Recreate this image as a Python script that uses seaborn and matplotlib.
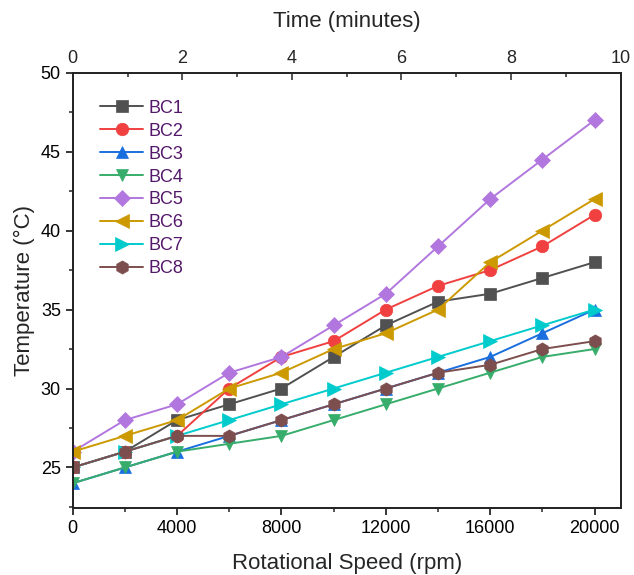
import matplotlib
matplotlib.use("Agg")
import matplotlib.pyplot as plt
import seaborn as sns
import numpy as np
from matplotlib.ticker import MultipleLocator

sns.set_style("ticks")
plt.rcParams['font.family'] = ['Liberation Sans', 'DejaVu Sans']

speed = [0, 2000, 4000, 6000, 8000, 10000, 12000, 14000, 16000, 18000, 20000]
bc1 = [25, 26, 28, 29, 30, 32, 34, 35.5, 36, 37, 38]
bc2 = [25, 26, 27, 30, 32, 33, 35, 36.5, 37.5, 39, 41]
bc3 = [24, 25, 26, 27, 28, 29, 30, 31, 32, 33.5, 35]
bc4 = [24, 25, 26, 26.5, 27, 28, 29, 30, 31, 32, 32.5]
bc5 = [26, 28, 29, 31, 32, 34, 36, 39, 42, 44.5, 47]
bc6 = [26, 27, 28, 30, 31, 32.5, 33.5, 35, 38, 40, 42]
bc7 = [25, 26, 27, 28, 29, 30, 31, 32, 33, 34, 35]
bc8 = [25, 26, 27, 27, 28, 29, 30, 31, 31.5, 32.5, 33]

names = ["BC1", "BC2", "BC3", "BC4", "BC5", "BC6", "BC7", "BC8"]
series = [bc1, bc2, bc3, bc4, bc5, bc6, bc7, bc8]
colors = ["#515151", "#F14040", "#1A6FDF", "#37AD6B", "#B177DE", "#CC9900", "#00CBCC", "#7D4E4E"]
markers = ["s", "o", "^", "v", "D", "<", ">", "h"]
msizes = [8, 9, 9, 9, 8, 9.5, 9.5, 9.5]

time_ticks = [0, 2, 4, 6, 8, 10]

fig = plt.figure(figsize=(6.34, 5.75), dpi=100)
ax = fig.add_axes([0.1147, 0.117, 0.979 - 0.1147, 0.8736 - 0.117])

for name, vals, c, m, ms in zip(names, series, colors, markers, msizes):
    sns.lineplot(x=speed, y=vals, ax=ax, color=c, marker=m, markersize=ms,
                 markeredgecolor=c, markeredgewidth=0.5, linewidth=1.4,
                 label=name)

ax.set_xlim(0, 21000)
ax.set_ylim(22.45, 50)
ax.xaxis.set_major_locator(MultipleLocator(4000))
ax.xaxis.set_minor_locator(MultipleLocator(2000))
ax.yaxis.set_major_locator(MultipleLocator(5))
ax.yaxis.set_minor_locator(MultipleLocator(2.5))
ax.tick_params(axis='both', which='major', direction='out', length=5, width=1.1,
               labelsize=13, colors='black')
ax.tick_params(axis='both', which='minor', direction='out', length=3, width=1.1)
ax.tick_params(axis='x', which='both', top=False)
ax.tick_params(axis='y', which='both', right=False)
for s in ax.spines.values():
    s.set_visible(True)
    s.set_linewidth(1.2)
    s.set_color('black')

ax.set_xlabel("Rotational Speed (rpm)", fontsize=16, labelpad=12)
ax.set_ylabel("Temperature (°C)", fontsize=16, labelpad=4)

ax2 = ax.twiny()
ax2.set_xlim(0, 10)
ax2.set_xticks(time_ticks)
ax2.xaxis.set_minor_locator(MultipleLocator(1))
ax2.tick_params(axis='x', which='major', direction='in', length=5, width=1.1,
                labelsize=13, pad=4)
ax2.tick_params(axis='x', which='minor', direction='in', length=3, width=1.1)
ax2.set_xlabel("Time (minutes)", fontsize=16, labelpad=17)
for s in ax2.spines.values():
    s.set_linewidth(1.2)

leg = ax.legend(loc='upper left', bbox_to_anchor=(0.05, 0.938), frameon=False,
                fontsize=13, handlelength=2.4, handletextpad=0.3,
                labelspacing=0.33, borderpad=0, borderaxespad=0)
for t in leg.get_texts():
    t.set_color("#54186A")

fig.savefig("out.png", dpi=100)
